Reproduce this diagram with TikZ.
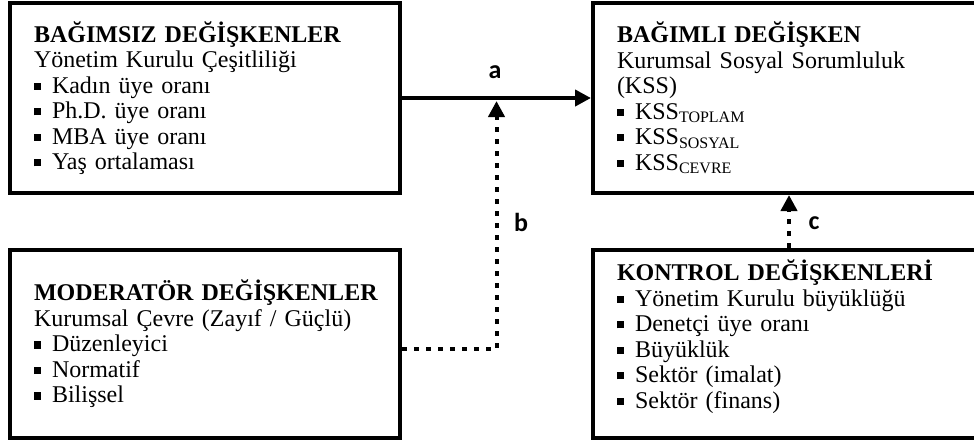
\documentclass[tikz,border=0pt]{standalone}
\usepackage{fontspec}
\setmainfont{Liberation Serif}
\newfontfamily\lblfont{Carlito}
\usetikzlibrary{arrows.meta, positioning, calc}
\newcommand{\sqbul}{\rule[0.14em]{0.3em}{0.3em}\hspace{0.45em}}

\begin{document}
\begin{tikzpicture}[x=0.5pt, y=-0.5pt]
  \tikzset{varbox/.style={rectangle, draw=black, line width=2pt,
                          inner xsep=12pt, inner ysep=4pt, align=left,
                          font=\fontsize{12}{12.75}\selectfont}}
  \tikzset{leftbox/.style={varbox, minimum width=195pt, text width=171pt}}
  \tikzset{rightbox/.style={varbox, minimum width=203.5pt, text width=179.5pt}}
  \tikzset{solidarr/.style={line width=2pt, -{Triangle[length=8pt, width=8pt]}}}
  \tikzset{dotarr/.style={line width=2pt, dash pattern=on 2.5pt off 3.5pt,
                          -{Triangle[length=8pt, width=8pt]}}}
  \tikzset{pathlbl/.style={font=\lblfont\bfseries\fontsize{13}{15}\selectfont}}

  \useasboundingbox (0,0) rectangle (974,441);
  \clip (0,0) rectangle (974,441);

  % Independent variables
  \node[leftbox, minimum height=95pt] (indep) at (205,98)
    {\textbf{BAĞIMSIZ DEĞİŞKENLER}\\
     Yönetim Kurulu Çeşitliliği\\
     \sqbul Kadın üye oranı\\
     \sqbul Ph.D. üye oranı\\
     \sqbul MBA üye oranı\\
     \sqbul Yaş ortalaması};

  % Dependent variable
  \node[rightbox, minimum height=95pt] (dep) at (796.5,98)
    {\textbf{BAĞIMLI DEĞİŞKEN}\\
     Kurumsal Sosyal Sorumluluk\\
     (KSS)\\
     \sqbul KSS\textsubscript{TOPLAM}\\
     \sqbul KSS\textsubscript{SOSYAL}\\
     \sqbul KSS\textsubscript{CEVRE}};

  % Moderator variables
  \node[leftbox, minimum height=94pt] (mod) at (205,344)
    {\mbox{\textbf{MODERATÖR DEĞİŞKENLER}}\\
     Kurumsal Çevre (Zayıf / Güçlü)\\
     \sqbul Düzenleyici\\
     \sqbul Normatif\\
     \sqbul Bilişsel};

  % Control variables
  \node[rightbox, minimum height=94pt] (ctrl) at (796.5,344)
    {\textbf{KONTROL DEĞİŞKENLERİ}\\
     \sqbul Yönetim Kurulu büyüklüğü\\
     \sqbul Denetçi üye oranı\\
     \sqbul Büyüklük\\
     \sqbul Sektör (imalat)\\
     \sqbul Sektör (finans)\rule[-10pt]{0pt}{10pt}};

  % Paths a, b, c
  \coordinate (jn) at ($(indep.east)!0.5!(dep.west)+(0,3)$);
  \coordinate (cx) at (789,0);
  \draw[solidarr] (indep.east) -- (dep.west);
  \draw[dotarr] ([yshift=-2.5pt]mod.east) -| (jn);
  \draw[dotarr] (ctrl.north -| cx) -- (dep.south -| cx);

  \node[pathlbl] (lbla) at (495,72) {a};
  \node[pathlbl] (lblb) at (521,222) {b};
  \node[pathlbl] (lblc) at (814,223) {c};
\end{tikzpicture}
\end{document}
